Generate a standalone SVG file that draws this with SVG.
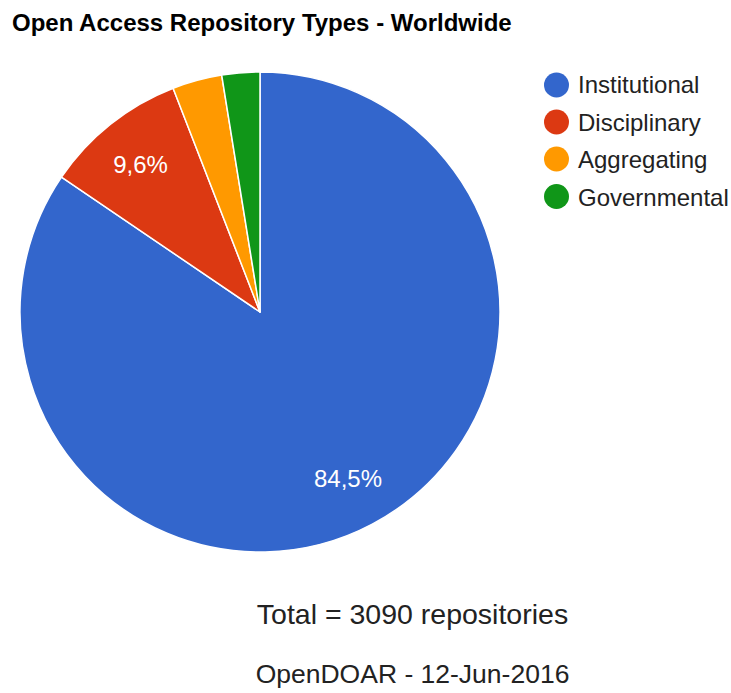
<svg xmlns="http://www.w3.org/2000/svg" width="731" height="693" viewBox="0 0 731 693">
<style>
text{font-family:"Liberation Sans",Arial,sans-serif}
.title{font-size:24px;font-weight:bold;fill:#000}
.leg{font-size:24px;fill:#222}
.lbl{font-size:24px;fill:#fff;text-anchor:middle}
.foot{font-size:27px;fill:#222;text-anchor:middle}
.slice{stroke:#fff;stroke-width:1.5;stroke-linejoin:round}
</style>
<rect width="731" height="693" fill="#fff"/>
<text class="title" x="12" y="31">Open Access Repository Types - Worldwide</text>
<g id="pie">
<g id="institutional"><path class="slice" fill="#3366cc" d="M260,312 L260,72 A240,240 0 1 1 61.5,177.1 Z"/></g>
<g id="disciplinary"><path class="slice" fill="#dc3912" d="M260,312 L61.5,177.1 A240,240 0 0 1 173.1,88.3 Z"/></g>
<g id="aggregating"><path class="slice" fill="#ff9900" d="M260,312 L173.1,88.3 A240,240 0 0 1 221.7,75.1 Z"/></g>
<g id="governmental"><path class="slice" fill="#109618" d="M260,312 L221.7,75.1 A240,240 0 0 1 260,72 Z"/></g>
<text class="lbl" x="140.5" y="173">9,6%</text>
<text class="lbl" x="348" y="487">84,5%</text>
</g>
<g id="legend">
<g id="leg-institutional"><circle cx="556.5" cy="85" r="12.5" fill="#3366cc"/><text class="leg" x="578" y="93">Institutional</text></g>
<g id="leg-disciplinary"><circle cx="556.5" cy="122" r="12.5" fill="#dc3912"/><text class="leg" x="578" y="130.5">Disciplinary</text></g>
<g id="leg-aggregating"><circle cx="556.5" cy="159" r="12.5" fill="#ff9900"/><text class="leg" x="578" y="168">Aggregating</text></g>
<g id="leg-governmental"><circle cx="556.5" cy="196.5" r="12.5" fill="#109618"/><text class="leg" x="578" y="205.5">Governmental</text></g>
</g>
<g id="connectors"></g>
<text class="foot" x="412.5" y="624" font-size="28.5" style="font-size:28.5px">Total = 3090 repositories</text>
<text class="foot" x="412.5" y="683" style="font-size:26.5px">OpenDOAR - 12-Jun-2016</text>
</svg>
